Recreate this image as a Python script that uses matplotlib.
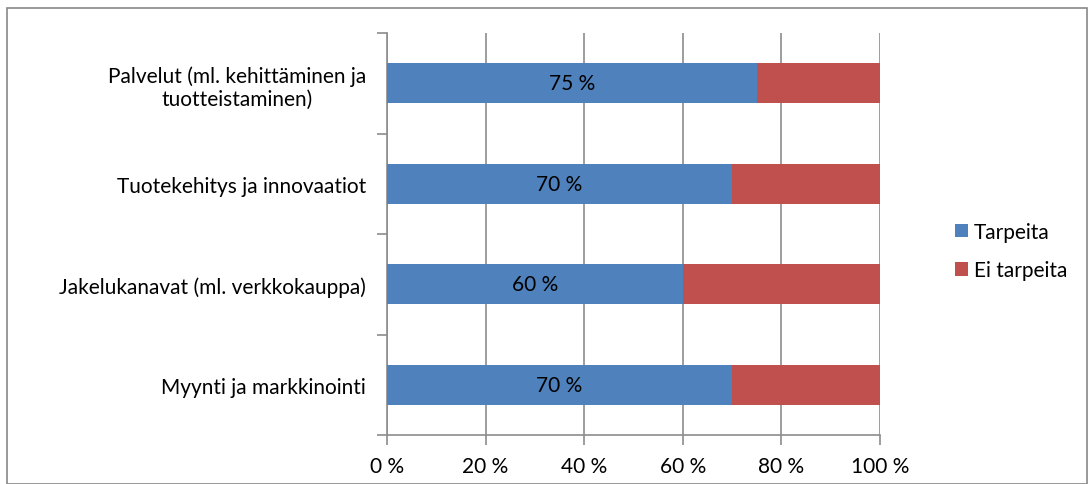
import matplotlib
matplotlib.use("Agg")
import matplotlib.pyplot as plt
from matplotlib.patches import Rectangle
import numpy as np

categories = ["Myynti ja markkinointi", "Jakelukanavat (ml. verkkokauppa)",
              "Tuotekehitys ja innovaatiot",
              "Palvelut (ml. kehittäminen ja\ntuotteistaminen)"]
tarpeita = [70, 60, 70, 75]
ei_tarpeita = [30, 40, 30, 25]
series_names = ["Tarpeita", "Ei tarpeita"]
xtick_vals = [0, 20, 40, 60, 80, 100]
xtick_labels = ["0 %", "20 %", "40 %", "60 %", "80 %", "100 %"]

plt.rcParams['font.family'] = ['Lato', 'DejaVu Sans']
FS = 15

W, H = 1092, 485
fig = plt.figure(figsize=(W / 100, H / 100), dpi=100)
ax = fig.add_axes([387 / W, 1 - 436 / H, (880 - 387) / W, (436 - 34) / H])

blue = "#4F81BD"
red = "#C0504D"
grid_c = "#8C8C8C"

y = np.arange(len(categories))
ax.barh(y, tarpeita, height=0.4, color=blue, label=series_names[0], zorder=3)
ax.barh(y, ei_tarpeita, left=tarpeita, height=0.4, color=red, label=series_names[1], zorder=3)

for yi, v in zip(y, tarpeita):
    ax.text(v / 2, yi, f"{v} %", ha="center", va="center", fontsize=FS, color="black", zorder=4)

ax.set_xlim(0, 100)
ax.set_ylim(-0.5, len(categories) - 0.5)
ax.set_xticks(xtick_vals)
ax.set_xticklabels(xtick_labels, fontsize=FS)
ax.xaxis.grid(True, color=grid_c, linewidth=1.2, zorder=0)

ax.set_yticks(y)
ax.set_yticklabels(categories, fontsize=FS, ha="right", multialignment="center")
ax.tick_params(axis="y", which="major", length=0, pad=15)
ax.set_yticks(np.arange(-0.5, len(categories), 1.0), minor=True)
ax.tick_params(axis="y", which="minor", length=7, width=1.2, color=grid_c, direction="out")
ax.tick_params(axis="x", length=7, width=1.2, color=grid_c, direction="out", pad=8)

for s in ["top", "right"]:
    ax.spines[s].set_visible(False)
for s in ["left", "bottom"]:
    ax.spines[s].set_color(grid_c)
    ax.spines[s].set_linewidth(1.2)

leg = fig.legend(loc="center left", bbox_to_anchor=(955 / W, 1 - 252 / H), frameon=False,
                 fontsize=FS, handlelength=0.62, handleheight=0.62, handletextpad=0.3,
                 labelspacing=0.9, borderpad=0, borderaxespad=0)

fig.patches.append(Rectangle((7 / W, 0), (1087 - 7) / W, 1 - 9 / H, transform=fig.transFigure,
                             fill=False, edgecolor="#888888", linewidth=1.2))

fig.savefig("out.png", dpi=100, facecolor="white")
